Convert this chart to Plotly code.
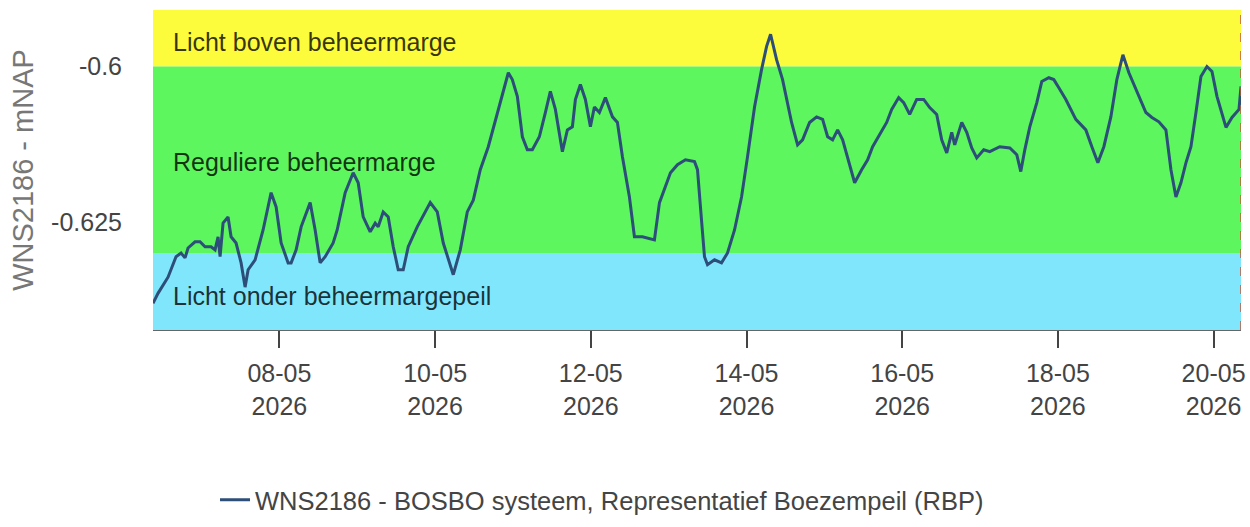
import pandas as pd
import plotly.graph_objects as go

# ---- data -------------------------------------------------------------
start_day = "2026-05-06 00:00"
hours_since_start = [
    9.03, 10.57, 13.66, 16.13, 17.67, 18.91, 19.83, 21.99, 23.53, 25.08,
    26.93, 28.16, 29.09, 29.71, 30.63, 32.17, 33.10, 34.64, 36.19, 37.42,
    38.35, 40.51, 42.97, 45.44, 46.99, 48.53, 50.69, 51.61, 53.16, 54.70,
    57.48, 59.02, 60.56, 62.11, 64.57, 65.81, 68.28, 70.74, 72.29, 73.83,
    75.99, 77.53, 78.46, 80.00, 81.55, 83.09, 84.63, 86.17, 87.72, 90.49,
    94.51, 96.67, 98.52, 101.60, 103.76, 105.92, 107.77, 109.93, 112.40, 115.18,
    116.72, 118.57, 119.80, 121.35, 122.90, 124.44, 125.98, 128.14, 129.99, 131.53,
    133.08, 135.24, 136.78, 138.32, 139.25, 140.79, 142.33, 143.88, 145.11, 146.65,
    148.50, 150.67, 152.21, 153.75, 155.91, 157.45, 159.92, 163.62, 165.17, 166.71,
    168.56, 170.72, 173.19, 175.97, 176.89, 178.13, 179.05, 179.98, 182.14, 184.30,
    186.15, 188.31, 190.47, 192.32, 194.48, 196.64, 198.18, 199.42, 201.27, 203.12,
    205.90, 207.75, 209.29, 211.45, 213.61, 215.46, 217.01, 218.55, 220.09, 221.64,
    223.80, 225.34, 227.50, 229.35, 230.89, 233.05, 235.21, 236.76, 238.92, 240.46,
    242.31, 244.47, 246.63, 248.48, 250.64, 252.18, 253.73, 255.27, 256.20, 258.36,
    259.90, 261.44, 262.98, 265.14, 267.00, 270.08, 273.17, 275.33, 276.56, 277.80,
    279.34, 281.50, 283.04, 285.20, 286.74, 288.29, 290.45, 293.53, 296.62, 298.47,
    300.32, 302.17, 304.33, 306.18, 308.04, 309.89, 312.97, 315.13, 316.98, 319.14,
    321.30, 322.85, 324.39, 325.93, 327.47, 329.02, 330.56, 332.10, 333.95, 335.50,
    337.04, 339.82, 341.67, 343.83, 344.45,
]
water_level = [
    -0.6381, -0.6365, -0.6339, -0.6306, -0.6300, -0.6308, -0.6292, -0.6282, -0.6282, -0.6290,
    -0.6290, -0.6295, -0.6274, -0.6306, -0.6252, -0.6242, -0.6274, -0.6284, -0.6316, -0.6355,
    -0.6327, -0.6311, -0.6263, -0.6203, -0.6226, -0.6284, -0.6316, -0.6316, -0.6295, -0.6258,
    -0.6219, -0.6263, -0.6316, -0.6306, -0.6284, -0.6263, -0.6203, -0.6171, -0.6187, -0.6242,
    -0.6266, -0.6252, -0.6258, -0.6234, -0.6242, -0.6290, -0.6327, -0.6327, -0.6290, -0.6258,
    -0.6219, -0.6234, -0.6284, -0.6335, -0.6295, -0.6234, -0.6215, -0.6166, -0.6129, -0.6074,
    -0.6048, -0.6010, -0.6021, -0.6048, -0.6113, -0.6134, -0.6134, -0.6113, -0.6074, -0.6040,
    -0.6069, -0.6137, -0.6102, -0.6097, -0.6053, -0.6029, -0.6053, -0.6097, -0.6065, -0.6074,
    -0.6050, -0.6081, -0.6090, -0.6145, -0.6210, -0.6274, -0.6274, -0.6279, -0.6219, -0.6198,
    -0.6171, -0.6158, -0.6150, -0.6153, -0.6166, -0.6247, -0.6306, -0.6319, -0.6311, -0.6316,
    -0.6300, -0.6263, -0.6210, -0.6145, -0.6065, -0.6005, -0.5968, -0.5948, -0.5989, -0.6021,
    -0.6090, -0.6126, -0.6118, -0.6090, -0.6081, -0.6085, -0.6113, -0.6118, -0.6102, -0.6118,
    -0.6161, -0.6187, -0.6166, -0.6150, -0.6129, -0.6110, -0.6090, -0.6069, -0.6050, -0.6058,
    -0.6077, -0.6053, -0.6053, -0.6066, -0.6077, -0.6118, -0.6139, -0.6106, -0.6126, -0.6090,
    -0.6106, -0.6131, -0.6147, -0.6134, -0.6137, -0.6129, -0.6131, -0.6142, -0.6169, -0.6134,
    -0.6097, -0.6058, -0.6024, -0.6018, -0.6021, -0.6034, -0.6053, -0.6085, -0.6102, -0.6129,
    -0.6155, -0.6129, -0.6081, -0.6021, -0.5981, -0.6010, -0.6048, -0.6074, -0.6082, -0.6089,
    -0.6102, -0.6166, -0.6210, -0.6187, -0.6155, -0.6129, -0.6074, -0.6016, -0.6000, -0.6008,
    -0.6048, -0.6098, -0.6082, -0.6069, -0.6032,
]
upper_margin = -0.600
lower_margin = -0.630
y_range = [-0.6424, -0.5909]
band_labels = ["Licht boven beheermarge", "Reguliere beheermarge", "Licht onder beheermargepeil"]
band_label_levels = [-0.5961, -0.6153, -0.6369]
y_tick_values = [-0.625, -0.6]
y_tick_labels = ["-0.625", "-0.6"]
series_name = "WNS2186 - BOSBO systeem, Representatief Boezempeil (RBP)"
y_title = "WNS2186 - mNAP"

# ---- figure -----------------------------------------------------------
times = pd.Timestamp(start_day) + pd.to_timedelta(hours_since_start, unit="h")
now_time = times[-1]

FONT = "Liberation Sans, Arial, sans-serif"
fig = go.Figure()
fig.add_trace(go.Scatter(
    x=times, y=water_level, mode="lines", name=series_name,
    line=dict(color="#2c4e78", width=3),
))

band_colors = ["#fcfb3c", "#5ef65e", "#80e6fc"]
band_edges = [(upper_margin, y_range[1]), (lower_margin, upper_margin), (y_range[0], lower_margin)]
for (y0, y1), col in zip(band_edges, band_colors):
    fig.add_shape(type="rect", xref="paper", x0=0, x1=1, yref="y", y0=y0, y1=y1,
                  fillcolor=col, line=dict(width=0), layer="below")

for txt, lvl in zip(band_labels, band_label_levels):
    fig.add_annotation(text=txt, xref="paper", x=0.0165, xanchor="left",
                       yref="y", y=lvl, yanchor="middle", showarrow=False,
                       font=dict(family=FONT, size=25, color="rgba(0,0,0,0.8)"))

fig.add_shape(type="line", xref="x", x0=now_time, x1=now_time, yref="paper", y0=0, y1=1,
              line=dict(color="#c2553a", width=1.5, dash="dash"), layer="above")

fig.update_layout(
    width=1250, height=527,
    margin=dict(l=153, r=9, t=10, b=197, autoexpand=False),
    paper_bgcolor="white", plot_bgcolor="white",
    font=dict(family=FONT, size=25, color="#444"),
    showlegend=True,
    legend=dict(orientation="h", x=0.057, xanchor="left", y=-0.605, yanchor="bottom",
                font=dict(family=FONT, size=25.5, color="#444"), bgcolor="rgba(0,0,0,0)"),
    xaxis=dict(
        range=[times[0], times[-1]], showgrid=False, zeroline=False,
        tickformat="%d-%m<br>%Y", dtick=2 * 86400000, tick0="2026-05-08",
        ticks="outside", ticklen=17, tickwidth=2, tickcolor="#444",
        ticklabelstandoff=4,
        showline=True, linecolor="#666", linewidth=1,
        tickfont=dict(family=FONT, size=25, color="#444"),
    ),
    yaxis=dict(
        range=y_range, showgrid=False, zeroline=False,
        tickvals=y_tick_values, ticktext=y_tick_labels, ticks="",
        ticklabelstandoff=30,
        tickfont=dict(family=FONT, size=25, color="#444"),
        title=dict(text=y_title, font=dict(family=FONT, size=29, color="#777"), standoff=8),
    ),
)

fig.write_html(
    "out.html",
    config={"displayModeBar": False},
    post_script="document.body.style.margin='0px';document.body.style.overflow='hidden';",
)
